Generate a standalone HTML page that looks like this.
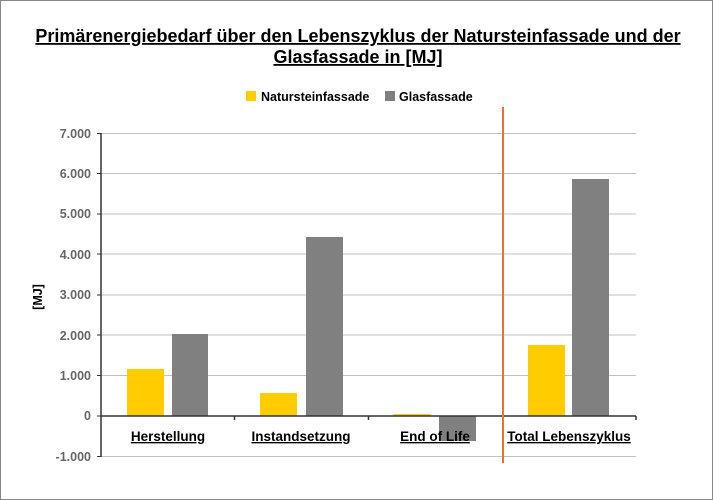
<!DOCTYPE html>
<html><head><style>
body{margin:0;background:#fff}
svg{display:block;font-family:"Liberation Sans",Arial,sans-serif}
</style></head><body>
<svg width="713" height="500" viewBox="0 0 713 500">
<rect x="0.5" y="0.5" width="712" height="499" fill="#fff" stroke="#888"/>
<g font-weight="bold" font-size="18" text-anchor="middle" fill="#000" text-decoration="underline">
<text x="358" y="42">Primärenergiebedarf über den Lebenszyklus der Natursteinfassade und der</text>
<text x="358" y="63">Glasfassade in [MJ]</text>
</g>
<rect x="246" y="91" width="10" height="10" fill="#ffcc00"/>
<text x="261" y="101" font-size="12.5" font-weight="bold">Natursteinfassade</text>
<rect x="385" y="91" width="10" height="10" fill="#808080"/>
<text x="399" y="101" font-size="12.5" font-weight="bold">Glasfassade</text>
<g stroke="#c0c0c0" stroke-width="1">
<line x1="101" x2="636" y1="133.5" y2="133.5"/>
<line x1="101" x2="636" y1="173.5" y2="173.5"/>
<line x1="101" x2="636" y1="214" y2="214"/>
<line x1="101" x2="636" y1="254" y2="254"/>
<line x1="101" x2="636" y1="295" y2="295"/>
<line x1="101" x2="636" y1="335" y2="335"/>
<line x1="101" x2="636" y1="375.5" y2="375.5"/>
<line x1="101" x2="636" y1="456.5" y2="456.5"/>
</g>
<g font-size="12.5" font-weight="bold" fill="#666" text-anchor="end">
<text x="91" y="138">7.000</text>
<text x="91" y="178">6.000</text>
<text x="91" y="218">5.000</text>
<text x="91" y="259">4.000</text>
<text x="91" y="299">3.000</text>
<text x="91" y="340">2.000</text>
<text x="91" y="380">1.000</text>
<text x="91" y="420">0</text>
<text x="91" y="461">-1.000</text>
</g>
<text transform="translate(42,297) rotate(-90)" font-size="12.5" font-weight="bold" text-anchor="middle">[MJ]</text>
<g>
<rect x="127" y="369" width="37" height="47" fill="#ffcc00"/>
<rect x="172" y="334" width="36" height="82" fill="#808080"/>
<rect x="260" y="393" width="37" height="23" fill="#ffcc00"/>
<rect x="306" y="237" width="37" height="179" fill="#808080"/>
<rect x="393" y="414" width="38" height="2" fill="#ffcc00"/>
<rect x="439" y="416" width="37" height="25" fill="#808080"/>
<rect x="528" y="345" width="37" height="71" fill="#ffcc00"/>
<rect x="572" y="179" width="37" height="237" fill="#808080"/>
</g>
<g stroke="#333" stroke-width="1.5">
<line x1="101" y1="133" x2="101" y2="457"/>
<line x1="101" y1="416" x2="636" y2="416"/>
<line x1="234.5" y1="416" x2="234.5" y2="420"/>
<line x1="368.5" y1="416" x2="368.5" y2="420"/>
<line x1="636" y1="416" x2="636" y2="420"/>
</g>
<g stroke="#333" stroke-width="1">
<line x1="97" x2="101" y1="133.5" y2="133.5"/><line x1="97" x2="101" y1="173.5" y2="173.5"/>
<line x1="97" x2="101" y1="214" y2="214"/><line x1="97" x2="101" y1="254" y2="254"/>
<line x1="97" x2="101" y1="295" y2="295"/><line x1="97" x2="101" y1="335" y2="335"/>
<line x1="97" x2="101" y1="375.5" y2="375.5"/><line x1="97" x2="101" y1="416" y2="416"/>
<line x1="97" x2="101" y1="456.5" y2="456.5"/>
</g>
<line x1="503" y1="107" x2="503" y2="463" stroke="#e8742a" stroke-width="2"/>
<g font-size="13.5" font-weight="bold" text-anchor="middle" text-decoration="underline" fill="#000">
<text x="168" y="441">Herstellung</text>
<text x="301" y="441">Instandsetzung</text>
<text x="435" y="441">End of Life</text>
<text x="569" y="441">Total Lebenszyklus</text>
</g>
</svg>
</body></html>
